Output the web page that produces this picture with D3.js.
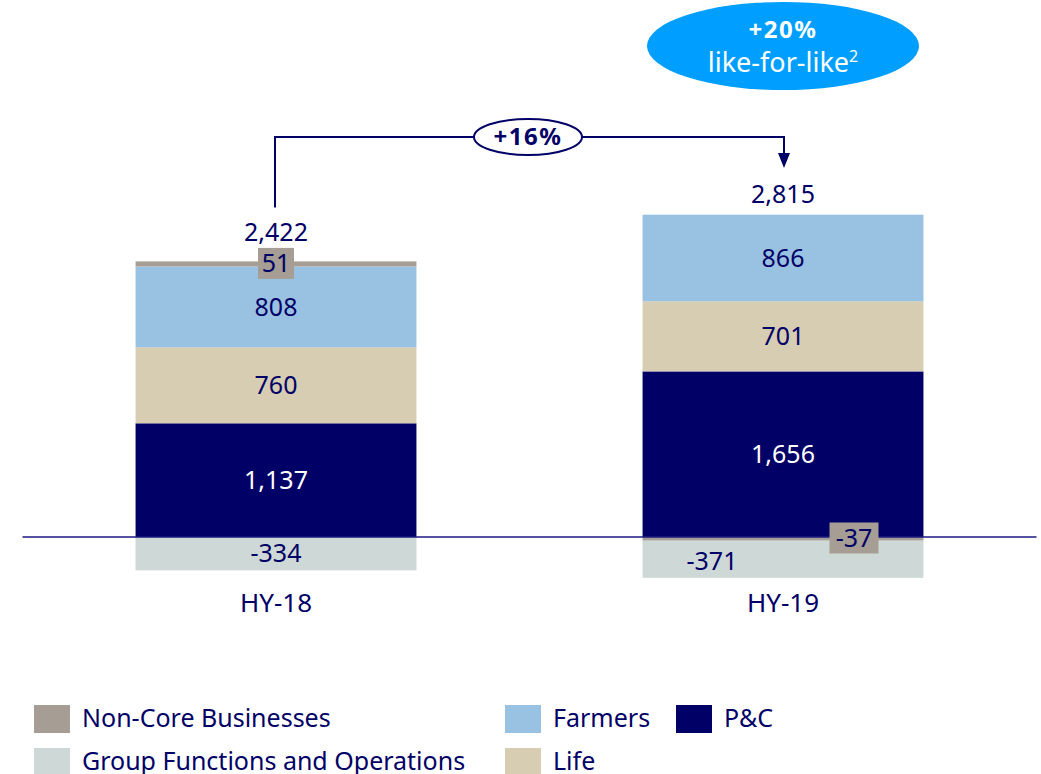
<!DOCTYPE html>
<html>
<head>
<meta charset="utf-8">
<script src="https://cdn.jsdelivr.net/npm/d3@7"></script>
<style>
  body { margin: 0; background: #fff; }
  svg { display: block; font-family: "Noto Sans", sans-serif; }
</style>
</head>
<body>
<div id="chart"></div>
<script>
// datos (USD m)
var periods = ["HY-18", "HY-19"];
var keys = ["P&C", "Life", "Farmers", "Non-Core Businesses", "Group Functions and Operations"];
var pc = [1137, 1656];
var life = [760, 701];
var farmers = [808, 866];
var nonCore = [51, -37];
var groupFn = [-334, -371];
var totals = [2422, 2815];
var growth = "+16%";
var lfl = "+20%";

var width = 1041;
var height = 774;
var navy = "#000066";
var colors = {
    "P&C": "#000066",
    "Life": "#d6cdb3",
    "Farmers": "#99c2e2",
    "Non-Core Businesses": "#a69d94",
    "Group Functions and Operations": "#ced8d6"
};

// guion normal en vez del signo menos unicode
var fmt = function(v) { return d3.format(",")(v).replace("\u2212", "-"); };

var rows = periods.map(function(p, i) {
    return {
        period: p,
        "P&C": pc[i],
        "Life": life[i],
        "Farmers": farmers[i],
        "Non-Core Businesses": nonCore[i],
        "Group Functions and Operations": groupFn[i]
    };
});

var series = d3.stack()
    .keys(keys)
    .offset(d3.stackOffsetDiverging)(rows);

var svg = d3.select('#chart')
    .append('svg')
    .attr('width', width)
    .attr('height', height);

// escalas
var x = d3.scaleBand()
    .domain(periods)
    .range([22.5, 1036.5])
    .paddingInner(0.446)
    .paddingOuter(0.223);

var y = d3.scaleLinear()
    .domain([0, 3000])
    .range([537, 237]);

// barras
var layer = svg.selectAll('g.layer')
    .data(series)
    .enter()
    .append('g')
    .attr('class', 'layer')
    .attr('fill', d => colors[d.key]);

layer.selectAll('rect')
    .data(d => d)
    .enter()
    .append('rect')
    .attr('x', d => x(d.data.period))
    .attr('y', d => y(Math.max(d[0], d[1])))
    .attr('width', x.bandwidth())
    .attr('height', d => Math.abs(y(d[0]) - y(d[1])));

// línea base
svg.append('line')
    .attr('x1', x.range()[0])
    .attr('x2', x.range()[1])
    .attr('y1', y(0))
    .attr('y2', y(0))
    .attr('stroke', '#1a1a80')
    .attr('stroke-width', 1.5);

// etiquetas de segmentos
var labelSize = 25;
series.forEach(function(s) {
    s.forEach(function(d, i) {
        var v = d.data[s.key];
        var cx = x(d.data.period) + x.bandwidth() / 2;
        var cy = (y(d[0]) + y(d[1])) / 2;
        var fill = s.key === "P&C" ? "#fff" : navy;
        if (s.key === "Non-Core Businesses") {
            // etiqueta con caja gris
            if (v > 0) { cy = y(d[1]) + 2; }
            else { cx = cx + 71; cy = y(0) + 1; }
            var txt = fmt(v);
            var bw = txt.length * 13 + 10;
            svg.append('rect')
                .attr('x', cx - bw / 2)
                .attr('y', cy - 15.5)
                .attr('width', bw)
                .attr('height', 31)
                .attr('fill', colors[s.key]);
            svg.append('text')
                .attr('x', cx)
                .attr('y', cy)
                .attr('dy', '0.35em')
                .attr('text-anchor', 'middle')
                .attr('fill', navy)
                .style('font-size', labelSize + 'px')
                .text(txt);
            return;
        }
        if (s.key === "Group Functions and Operations" && i === 1) {
            cx = cx - 71;
            cy = cy + 2;
        }
        svg.append('text')
            .attr('x', cx)
            .attr('y', cy)
            .attr('dy', '0.35em')
            .attr('text-anchor', 'middle')
            .attr('fill', fill)
            .style('font-size', labelSize + 'px')
            .text(fmt(v));
    });
});

// totales
var tops = periods.map(function(p, i) {
    return d3.sum([pc[i], life[i], farmers[i], Math.max(0, nonCore[i])]);
});
svg.selectAll('text.total')
    .data(periods)
    .enter()
    .append('text')
    .attr('class', 'total')
    .attr('x', d => x(d) + x.bandwidth() / 2)
    .attr('y', (d, i) => y(tops[i]) - (nonCore[i] > 0 ? 20 : 12))
    .attr('text-anchor', 'middle')
    .attr('fill', navy)
    .style('font-size', labelSize + 'px')
    .text((d, i) => fmt(totals[i]));

// eje x (categorías)
svg.selectAll('text.cat')
    .data(periods)
    .enter()
    .append('text')
    .attr('class', 'cat')
    .attr('x', d => x(d) + x.bandwidth() / 2)
    .attr('y', 612)
    .attr('text-anchor', 'middle')
    .attr('fill', navy)
    .style('font-size', '26px')
    .text(d => d);

// flecha de crecimiento
var x0 = x(periods[0]) + x.bandwidth() / 2 - 1;
var x1 = x(periods[1]) + x.bandwidth() / 2 + 1;
var yArc = 137;
svg.append('path')
    .attr('d', 'M' + x0 + ',' + (y(tops[0]) - 54) + 'V' + yArc + 'H' + x1 + 'V' + 155)
    .attr('fill', 'none')
    .attr('stroke', navy)
    .attr('stroke-width', 2);
svg.append('path')
    .attr('d', 'M' + (x1 - 6) + ',153 L' + (x1 + 6) + ',153 L' + x1 + ',168 Z')
    .attr('fill', navy);

var mx = 528;
svg.append('ellipse')
    .attr('cx', mx)
    .attr('cy', yArc)
    .attr('rx', 54)
    .attr('ry', 18)
    .attr('fill', '#fff')
    .attr('stroke', navy)
    .attr('stroke-width', 2);
svg.append('text')
    .attr('x', mx)
    .attr('y', yArc)
    .attr('dy', '0.35em')
    .attr('text-anchor', 'middle')
    .attr('fill', navy)
    .attr('font-weight', 700)
    .attr('letter-spacing', 1.5)
    .style('font-size', '24px')
    .text(growth);

// burbuja like-for-like
var bx = x(periods[1]) + x.bandwidth() / 2;
svg.append('ellipse')
    .attr('cx', bx)
    .attr('cy', 46)
    .attr('rx', 136)
    .attr('ry', 44)
    .attr('fill', '#009fff');
svg.append('text')
    .attr('x', bx)
    .attr('y', 38)
    .attr('text-anchor', 'middle')
    .attr('fill', '#fff')
    .attr('font-weight', 700)
    .attr('letter-spacing', 1.5)
    .style('font-size', '24px')
    .text(lfl);
var t2 = svg.append('text')
    .attr('x', bx)
    .attr('y', 72)
    .attr('text-anchor', 'middle')
    .attr('fill', '#fff')
    .style('font-size', '27px');
t2.append('tspan').text('like-for-like');
t2.append('tspan')
    .attr('dy', -10)
    .style('font-size', '16px')
    .text('2');

// leyenda
var legendItems = [
    { key: "Non-Core Businesses", col: 0, row: 0 },
    { key: "Farmers", col: 1, row: 0 },
    { key: "P&C", col: 2, row: 0 },
    { key: "Group Functions and Operations", col: 0, row: 1 },
    { key: "Life", col: 1, row: 1 }
];
var colX = [34, 505, 676];
var legend = svg.selectAll('g.legend')
    .data(legendItems)
    .enter()
    .append('g')
    .attr('class', 'legend')
    .attr('transform', d => 'translate(' + colX[d.col] + ',' + (705 + d.row * 43) + ')');
legend.append('rect')
    .attr('width', 36)
    .attr('height', 28)
    .attr('fill', d => colors[d.key]);
legend.append('text')
    .attr('x', 48)
    .attr('y', 13)
    .attr('dy', '0.35em')
    .attr('fill', navy)
    .style('font-size', '25px')
    .text(d => d.key);
</script>
</body>
</html>
